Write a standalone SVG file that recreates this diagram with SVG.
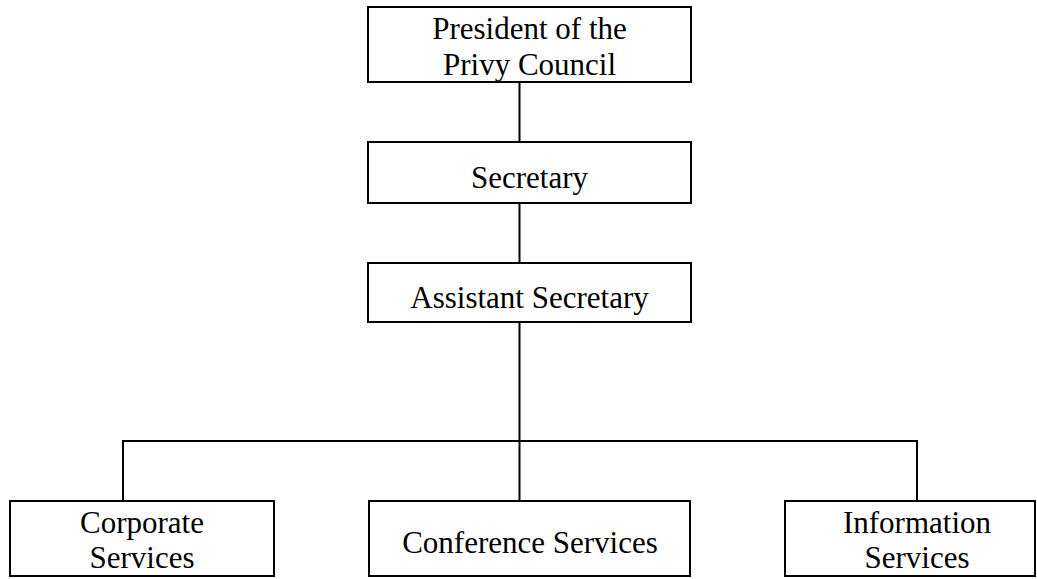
<svg xmlns="http://www.w3.org/2000/svg" width="1037" height="579" viewBox="0 0 1037 579">
<style>
.box{fill:#fff;stroke:#000;stroke-width:2}
.ln{fill:none;stroke:#000;stroke-width:2}
text{font-family:"Liberation Serif","Times New Roman",serif;font-size:31px;fill:#000;text-anchor:middle}
</style>
<rect width="1037" height="579" fill="#fff"/>
<g id="connectors">
<line class="ln" x1="519.5" y1="82" x2="519.5" y2="142"/>
<line class="ln" x1="519.5" y1="203" x2="519.5" y2="263"/>
<line class="ln" x1="519.5" y1="322" x2="519.5" y2="501"/>
<polyline class="ln" points="123,501 123,441 917,441 917,501"/>
</g>
<g id="president">
<rect class="box" x="368" y="7" width="323" height="75"/>
<text x="529.5" y="39">President of the</text>
<text x="529.5" y="75">Privy Council</text>
</g>
<g id="secretary">
<rect class="box" x="368" y="142" width="323" height="61"/>
<text x="529.5" y="188">Secretary</text>
</g>
<g id="assistant">
<rect class="box" x="368" y="263" width="323" height="59"/>
<text x="529.5" y="308">Assistant Secretary</text>
</g>
<g id="corporate">
<rect class="box" x="10" y="501" width="264" height="75"/>
<text x="142" y="533">Corporate</text>
<text x="142" y="568">Services</text>
</g>
<g id="conference">
<rect class="box" x="369" y="501" width="321" height="75"/>
<text x="530" y="553">Conference Services</text>
</g>
<g id="information">
<rect class="box" x="785" y="501" width="250" height="75"/>
<text x="917" y="533">Information</text>
<text x="917" y="568">Services</text>
</g>
</svg>
